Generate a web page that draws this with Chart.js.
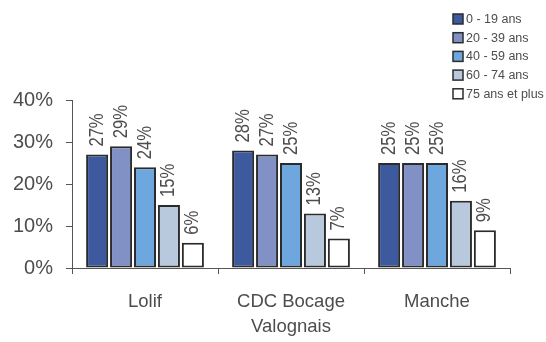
<!DOCTYPE html>
<html>
<head>
<meta charset="utf-8">
<script src="https://cdn.jsdelivr.net/npm/chart.js@4/dist/chart.umd.min.js"></script>
<style>
html,body{margin:0;padding:0;background:#fff;}
#wrap{width:546px;height:342px;position:relative;}
</style>
</head>
<body>
<div id="wrap"><canvas id="c" width="546" height="342"></canvas></div>
<script>
const categories = [["Lolif"], ["CDC Bocage", "Valognais"], ["Manche"]];
const seriesLabels = ["0 - 19 ans", "20 - 39 ans", "40 - 59 ans", "60 - 74 ans", "75 ans et plus"];
const age0_19 = [27, 28, 25];
const age20_39 = [29, 27, 25];
const age40_59 = [24, 25, 25];
const age60_74 = [15, 13, 16];
const age75plus = [6, 7, 9];
const yTicks = [0, 10, 20, 30, 40];

const colors = ["#3d5a9e", "#8191c6", "#6ea6de", "#b9c9dd", "#ffffff"];
const seriesData = [age0_19, age20_39, age40_59, age60_74, age75plus];
const textColor = "#4d4d4d";
const regular = "'Liberation Sans', Arial, sans-serif";

const datasets = seriesLabels.map((lab, i) => ({
  label: lab,
  data: seriesData[i],
  backgroundColor: colors[i],
  borderColor: "#2b2b2b",
  borderWidth: 2,
  borderSkipped: false,
  barPercentage: 0.92,
  categoryPercentage: 0.82
}));

const valueLabels = {
  id: 'valueLabels',
  afterDatasetsDraw(chart) {
    const ctx = chart.ctx;
    ctx.save();
    ctx.fillStyle = textColor;
    ctx.font = "20px " + regular;
    ctx.textAlign = 'left';
    ctx.textBaseline = 'middle';
    chart.data.datasets.forEach((ds, di) => {
      const meta = chart.getDatasetMeta(di);
      meta.data.forEach((el, i) => {
        ctx.save();
        ctx.translate(el.x, el.y - 8);
        ctx.rotate(-Math.PI / 2);
        ctx.scale(0.83, 1);
        ctx.fillText(ds.data[i] + '%', 0, 0);
        ctx.restore();
      });
    });
    ctx.restore();
  }
};

const sideLegend = {
  id: 'sideLegend',
  afterDraw(chart) {
    const ctx = chart.ctx;
    ctx.save();
    ctx.font = "12.5px " + regular;
    ctx.textBaseline = 'middle';
    ctx.textAlign = 'left';
    chart.data.datasets.forEach((ds, i) => {
      const y = 19 + i * 18.7;
      ctx.fillStyle = ds.backgroundColor;
      ctx.fillRect(453, y - 5, 10, 10);
      ctx.strokeStyle = "#2b2b2b";
      ctx.lineWidth = 1.5;
      ctx.strokeRect(453, y - 5, 10, 10);
      ctx.fillStyle = textColor;
      ctx.fillText(ds.label, 466, y + 0.5);
    });
    ctx.restore();
  }
};

new Chart(document.getElementById('c'), {
  type: 'bar',
  data: { labels: categories, datasets: datasets },
  options: {
    responsive: false,
    animation: false,
    layout: { padding: { top: 100, right: 36, left: 0, bottom: 0 } },
    plugins: { legend: { display: false }, tooltip: { enabled: false } },
    scales: {
      x: {
        grid: { display: true, drawOnChartArea: false, drawTicks: true, tickLength: 6, offset: true, color: "#555", lineWidth: 1 },
        border: { display: true, color: "#555", width: 1 },
        ticks: { color: textColor, font: { family: regular, size: 18.5, lineHeight: 1.32 }, padding: 16, maxRotation: 0, autoSkip: false },
        afterFit(scale) { scale.height = 74; }
      },
      y: {
        min: 0, max: 40,
        afterBuildTicks(scale) { scale.ticks = yTicks.map(v => ({ value: v })); },
        grid: { display: true, drawOnChartArea: false, drawTicks: true, tickLength: 6, color: "#555" },
        border: { display: true, color: "#555", width: 1 },
        ticks: { color: textColor, font: { family: regular, size: 20 }, padding: 13, callback: v => v + '%' },
        afterFit(scale) { scale.width = 72; }
      }
    }
  },
  plugins: [valueLabels, sideLegend]
});
</script>
</body>
</html>
